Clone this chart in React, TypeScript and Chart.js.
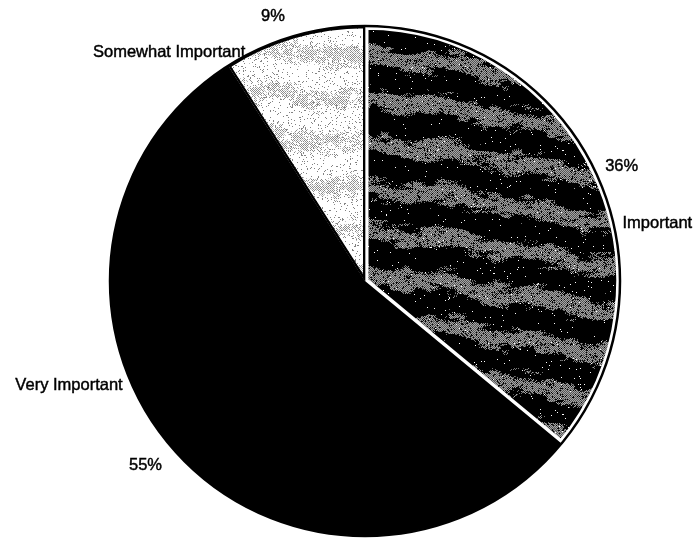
import React, { useEffect, useRef } from "react";
import { Chart, registerables } from "chart.js";

Chart.register(...registerables);

// Survey answer categories, in clockwise order from 12 o'clock
const categories = ["Important", "Very Important", "Somewhat Important"];
// Share of responses (percent)
const shares = [36, 55, 9];

// Label placement: angle offset from the slice's mid-angle (degrees)
// and distance beyond the pie's rim (px), for the percent and the name
const pctPlacement = [
  { dAngle: 1.2, gap: 26 },
  { dAngle: 1.3, gap: 32 },
  { dAngle: -3, gap: 25 },
];
const namePlacement = [
  { dAngle: 14, gap: 43 },
  { dAngle: 21.9, gap: 59 },
  { dAngle: -24.4, gap: 46 },
];

const FONT = '16.5px "Liberation Sans", Arial, Helvetica, sans-serif';

// deterministic grain used to speckle the fill textures
function grain(x: number, y: number): number {
  const s = Math.sin(x * 12.9898 + y * 78.233) * 43758.5453;
  return s - Math.floor(s);
}

// smooth value noise on a coarse lattice, wrapping so the tile repeats seamlessly
function blotch(x: number, y: number, cw: number, ch: number, wrapX: number, wrapY: number): number {
  const gx = x / cw, gy = y / ch;
  const x0 = Math.floor(gx), y0 = Math.floor(gy);
  const fx = gx - x0, fy = gy - y0;
  const sx = fx * fx * (3 - 2 * fx), sy = fy * fy * (3 - 2 * fy);
  const g = (i: number, j: number) => grain(((i % wrapX) + wrapX) % wrapX, ((j % wrapY) + wrapY) % wrapY);
  const a = g(x0, y0), b = g(x0 + 1, y0), c = g(x0, y0 + 1), d = g(x0 + 1, y0 + 1);
  return (a * (1 - sx) + b * sx) * (1 - sy) + (c * (1 - sx) + d * sx) * sy;
}

// tile: 704 wide, 264 tall; streak period 44px, slope 1:8
const TW = 704, TH = 264, PERIOD = 44;

function streakPhase(x: number, y: number, wobble: number): number {
  return (
    ((y - 0.125 * x) / PERIOD) * Math.PI * 2 +
    wobble * Math.sin((x / 352) * Math.PI * 2) +
    wobble * 0.7 * Math.sin((x / 88) * Math.PI * 2 + 1)
  );
}

// dark fill with ragged grey streaks running slightly downhill
function makeStreakTile(): HTMLCanvasElement {
  const c = document.createElement("canvas");
  c.width = TW; c.height = TH;
  const ctx = c.getContext("2d")!;
  const img = ctx.createImageData(TW, TH);
  for (let y = 0; y < TH; y++) {
    for (let x = 0; x < TW; x++) {
      const band =
        Math.sin(streakPhase(x, y, 0.5)) +
        (blotch(x, y, 11, 4, TW / 11, TH / 4) - 0.5) * 1.6 +
        (grain(x, y) - 0.5) * 0.6;
      let v = 0;
      if (band > 0.35) {
        v = (x + y) % 2 === 0 ? 165 : 85;
        if (grain(y, x) < 0.12) v = 0;
      } else if (band > 0.1 && (x + y) % 2 === 0 && grain(x + 3, y) < 0.5) {
        v = 120;
      }
      if (grain(x + 7, y + 3) < 0.008) v = 255;
      const i = (y * TW + x) * 4;
      img.data[i] = img.data[i + 1] = img.data[i + 2] = v;
      img.data[i + 3] = 255;
    }
  }
  ctx.putImageData(img, 0, 0);
  return c;
}

// light stippled fill
function makeStippleTile(): HTMLCanvasElement {
  const c = document.createElement("canvas");
  c.width = TW; c.height = TH;
  const ctx = c.getContext("2d")!;
  const img = ctx.createImageData(TW, TH);
  for (let y = 0; y < TH; y++) {
    for (let x = 0; x < TW; x++) {
      const band =
        Math.sin(streakPhase(x, y, 0.4)) * 0.6 +
        (blotch(x, y, 8, 6, TW / 8, TH / 6) - 0.5) * 1.0 +
        (grain(x, y) - 0.5) * 1.0;
      let v = 255;
      if (band > 0.3) {
        if ((x + y) % 2 === 0) v = grain(x, y + 5) < 0.3 ? 190 : 140;
      } else if (grain(y + 11, x) < 0.07) {
        v = 130;
      }
      const i = (y * TW + x) * 4;
      img.data[i] = img.data[i + 1] = img.data[i + 2] = v;
      img.data[i + 3] = 255;
    }
  }
  ctx.putImageData(img, 0, 0);
  return c;
}

const deg = Math.PI / 180;

const rimAndLabels = {
  id: "rimAndLabels",
  afterDatasetsDraw(chart: any) {
    const meta = chart.getDatasetMeta(0);
    const arcs = meta.data;
    if (!arcs.length) return;
    const { x, y, outerRadius } = arcs[0].getProps(["x", "y", "outerRadius"], true);
    const ctx = chart.ctx;
    ctx.save();
    ctx.strokeStyle = "#000";
    ctx.lineWidth = 2.5;
    ctx.beginPath();
    ctx.arc(x, y, outerRadius, 0, Math.PI * 2);
    ctx.stroke();
    ctx.restore();
  },
  afterDraw(chart: any) {
    const meta = chart.getDatasetMeta(0);
    const ctx = chart.ctx;
    const total = shares.reduce((a, b) => a + b, 0);
    ctx.save();
    ctx.font = FONT;
    ctx.fillStyle = "#000";
    ctx.strokeStyle = "#000";
    ctx.lineWidth = 0.45;
    ctx.textAlign = "center";
    ctx.textBaseline = "middle";
    const put = (t: string, px: number, py: number) => {
      ctx.fillText(t, px, py);
      ctx.strokeText(t, px, py);
    };
    meta.data.forEach((arc: any, i: number) => {
      const p = arc.getProps(["x", "y", "startAngle", "endAngle", "outerRadius"], true);
      const mid = (p.startAngle + p.endAngle) / 2;
      const pp = pctPlacement[i];
      const a1 = mid + pp.dAngle * deg;
      const r1 = p.outerRadius + pp.gap;
      put(
        Math.round((shares[i] / total) * 100) + "%",
        p.x + Math.cos(a1) * r1,
        p.y + Math.sin(a1) * r1
      );
      const np = namePlacement[i];
      const a2 = mid + np.dAngle * deg;
      const r2 = p.outerRadius + np.gap;
      put(categories[i], p.x + Math.cos(a2) * r2, p.y + Math.sin(a2) * r2);
    });
    ctx.restore();
  },
};

export default function App() {
  const ref = useRef<HTMLCanvasElement | null>(null);

  useEffect(() => {
    if (!ref.current) return;
    const probe = document.createElement("canvas").getContext("2d")!;
    const streaks = probe.createPattern(makeStreakTile(), "repeat");
    const stipple = probe.createPattern(makeStippleTile(), "repeat");

    const chart = new Chart(ref.current, {
      type: "pie",
      data: {
        labels: categories,
        datasets: [
          {
            data: shares,
            backgroundColor: [streaks as any, "#000000", stipple as any],
            borderColor: ["#ffffff", "#000000", "#000000"],
            borderWidth: [3.5, 0, 2],
            borderAlign: ["inner", "inner", "inner"] as any,
          },
        ],
      },
      options: {
        responsive: false,
        animation: false,
        events: [],
        layout: { padding: { top: 26, bottom: 4, left: 110, right: 74 } },
        plugins: {
          legend: { display: false },
          tooltip: { enabled: false },
        },
      },
      plugins: [rimAndLabels],
    });
    return () => chart.destroy();
  }, []);

  return (
    <div style={{ position: "fixed", left: 0, top: 0, width: 694, height: 540, background: "#fff" }}>
      <canvas ref={ref} width={694} height={540} />
    </div>
  );
}
